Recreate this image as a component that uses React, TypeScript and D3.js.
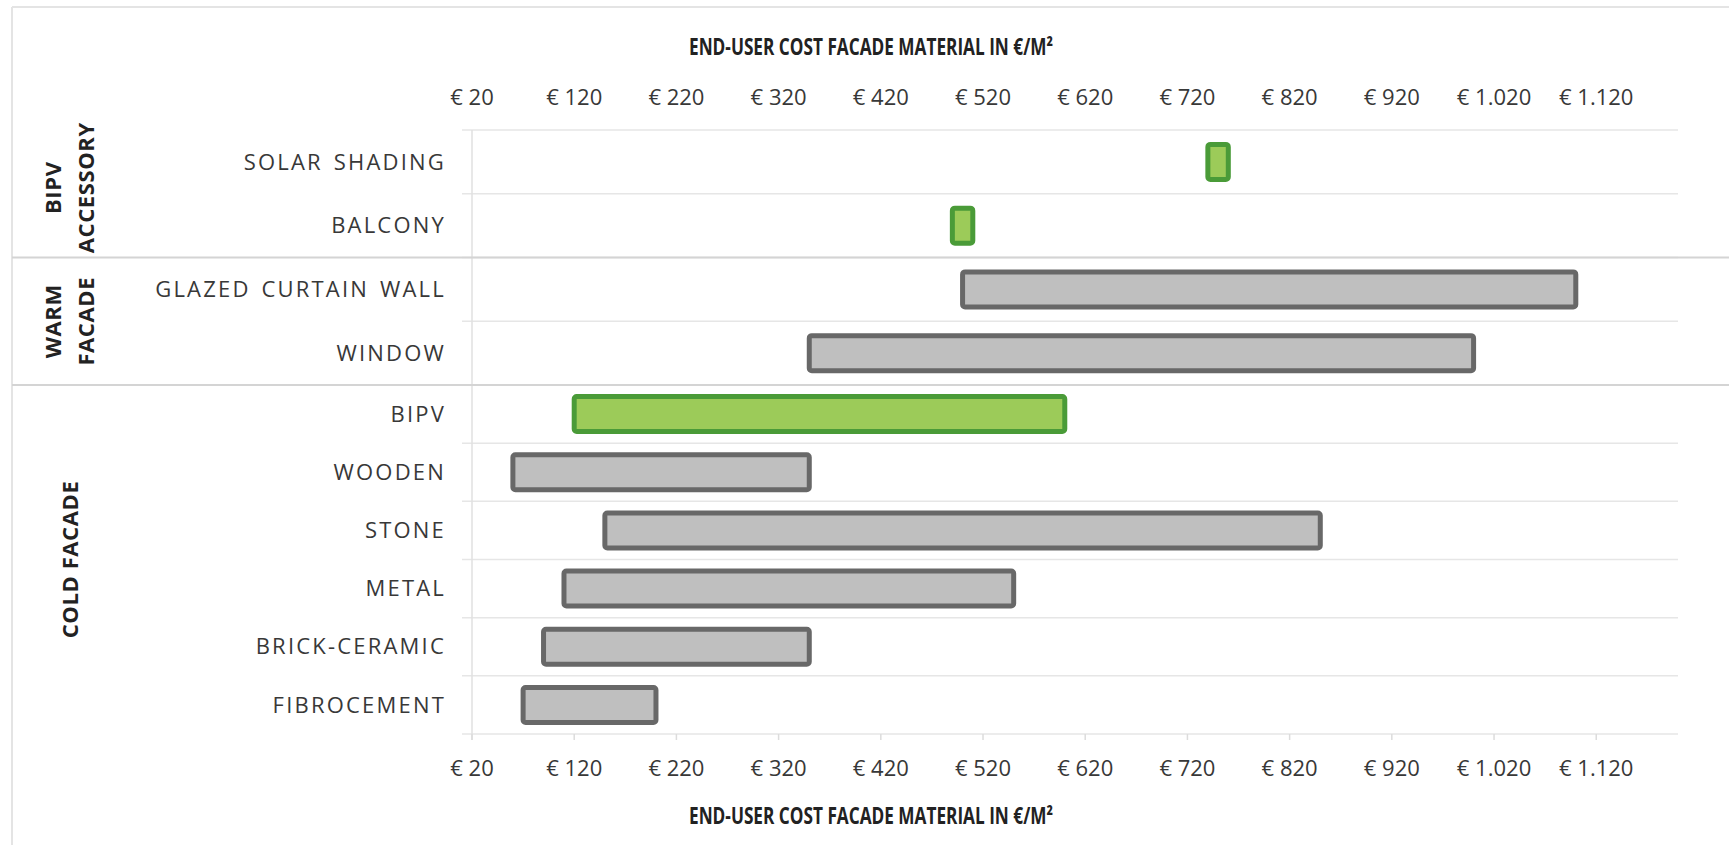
import React from 'react';
import * as d3 from 'd3';

// chart values
const categories = [
  'SOLAR SHADING', 'BALCONY', 'GLAZED CURTAIN WALL', 'WINDOW', 'BIPV',
  'WOODEN', 'STONE', 'METAL', 'BRICK-CERAMIC', 'FIBROCEMENT',
];
const minCost = [740, 490, 500, 350, 120, 60, 150, 110, 90, 70];
const maxCost = [760, 510, 1100, 1000, 600, 350, 850, 550, 350, 200];
const isBipv = [true, true, false, false, true, false, false, false, false, false];

const groupLines = [['BIPV', 'ACCESSORY'], ['WARM', 'FACADE'], ['COLD FACADE']];
const groupStart = [0, 2, 4];
const groupEnd = [2, 4, 10];

const tickValues = [20, 120, 220, 320, 420, 520, 620, 720, 820, 920, 1020, 1120];
const axisTitle = 'END-USER COST FACADE MATERIAL IN €/M²';

const W = 1729;
const H = 845;
const left = 472;
const right = 1678;
const top = 130;
const bottom = 734;

const euro = d3.formatLocale({
  decimal: ',', thousands: '.', grouping: [3], currency: ['€ ', ''],
}).format('$,.0f');

const FONT = '"Open Sans", "Liberation Sans", sans-serif';
const TEXT = '#383838';

export default function App() {
  const x = d3.scaleLinear().domain([20, 1200]).range([left, right]);
  // row index -> y; the upper groups have slightly taller rows in the source
  const row = d3.scaleLinear().domain([0, 4, 10]).range([top, 385, bottom]);
  const barH = 35;

  const rowLines = d3.range(categories.length + 1).map((i) => row(i));

  return (
    <div>
      <style>{'body{margin:0;background:#fff}'}</style>
      <svg width={W} height={H} style={{display: 'block', background: '#fff'}}
        fontFamily={FONT}>
        {/* outer frame */}
        <line x1={12} x2={W} y1={7} y2={7} stroke="#e4e4e4" strokeWidth={2} />
        <line x1={12} x2={12} y1={7} y2={H} stroke="#e4e4e4" strokeWidth={2} />

        {/* gridlines */}
        {rowLines.map((v, i) => (
          <line key={'g' + i} x1={left - 10} x2={right} y1={v} y2={v}
            stroke="#e6e6e6" strokeWidth={1.5} />
        ))}
        <line x1={left} x2={left} y1={top} y2={bottom + 6}
          stroke="#e0e0e0" strokeWidth={1.5} />
        {tickValues.map((t) => (
          <line key={'tk' + t} x1={x(t)} x2={x(t)} y1={bottom} y2={bottom + 6}
            stroke="#dcdcdc" strokeWidth={1.5} />
        ))}

        {/* group separators */}
        {groupStart.slice(1).map((s) => (
          <line key={'s' + s} x1={12} x2={W} y1={row(s)} y2={row(s)}
            stroke="#d4d4d4" strokeWidth={2} />
        ))}

        {/* top and bottom axis labels */}
        {tickValues.map((t) => (
          <g key={'l' + t}>
            <text x={x(t)} y={97} dy="0.35em" textAnchor="middle"
              fontSize={22} fill={TEXT}>{euro(t)}</text>
            <text x={x(t)} y={768} dy="0.35em" textAnchor="middle"
              fontSize={22} fill={TEXT}>{euro(t)}</text>
          </g>
        ))}
        {[47, 816].map((ty) => (
          <text key={'t' + ty} x={871} y={ty} dy="0.35em" textAnchor="middle"
            fontSize={22.5} fontWeight="bold" fill="#222"
            textLength={364} lengthAdjust="spacingAndGlyphs">{axisTitle}</text>
        ))}

        {/* category labels */}
        {categories.map((c, i) => (
          <text key={'c' + c} x={446} y={(row(i) + row(i + 1)) / 2} dy="0.35em"
            textAnchor="end" fontSize={22} letterSpacing={2.2} wordSpacing={3}
            fill={TEXT}>{c}</text>
        ))}

        {/* group labels */}
        {groupLines.map((lines, gi) => {
          const cy = (row(groupStart[gi]) + row(groupEnd[gi])) / 2;
          const cx = 70;
          const lh = 33;
          return (
            <g key={'gr' + gi} transform={`translate(${cx},${cy - (gi === 0 ? 6 : 0)}) rotate(-90)`}>
              {lines.map((s, li) => (
                <text key={s} x={0} y={(li - (lines.length - 1) / 2) * lh}
                  dy="0.35em" textAnchor="middle" fontSize={22}
                  letterSpacing={0.6} fontWeight="bold" fill="#222">{s}</text>
              ))}
            </g>
          );
        })}

        {/* bars */}
        {categories.map((c, i) => (
          <rect key={'b' + c} x={x(minCost[i])}
            y={(row(i) + row(i + 1)) / 2 - barH / 2}
            width={x(maxCost[i]) - x(minCost[i])} height={barH}
            rx={2.5}
            fill={isBipv[i] ? '#9ccb59' : '#bfbfbf'}
            stroke={isBipv[i] ? '#4a9b38' : '#686868'} strokeWidth={5} />
        ))}
      </svg>
    </div>
  );
}
